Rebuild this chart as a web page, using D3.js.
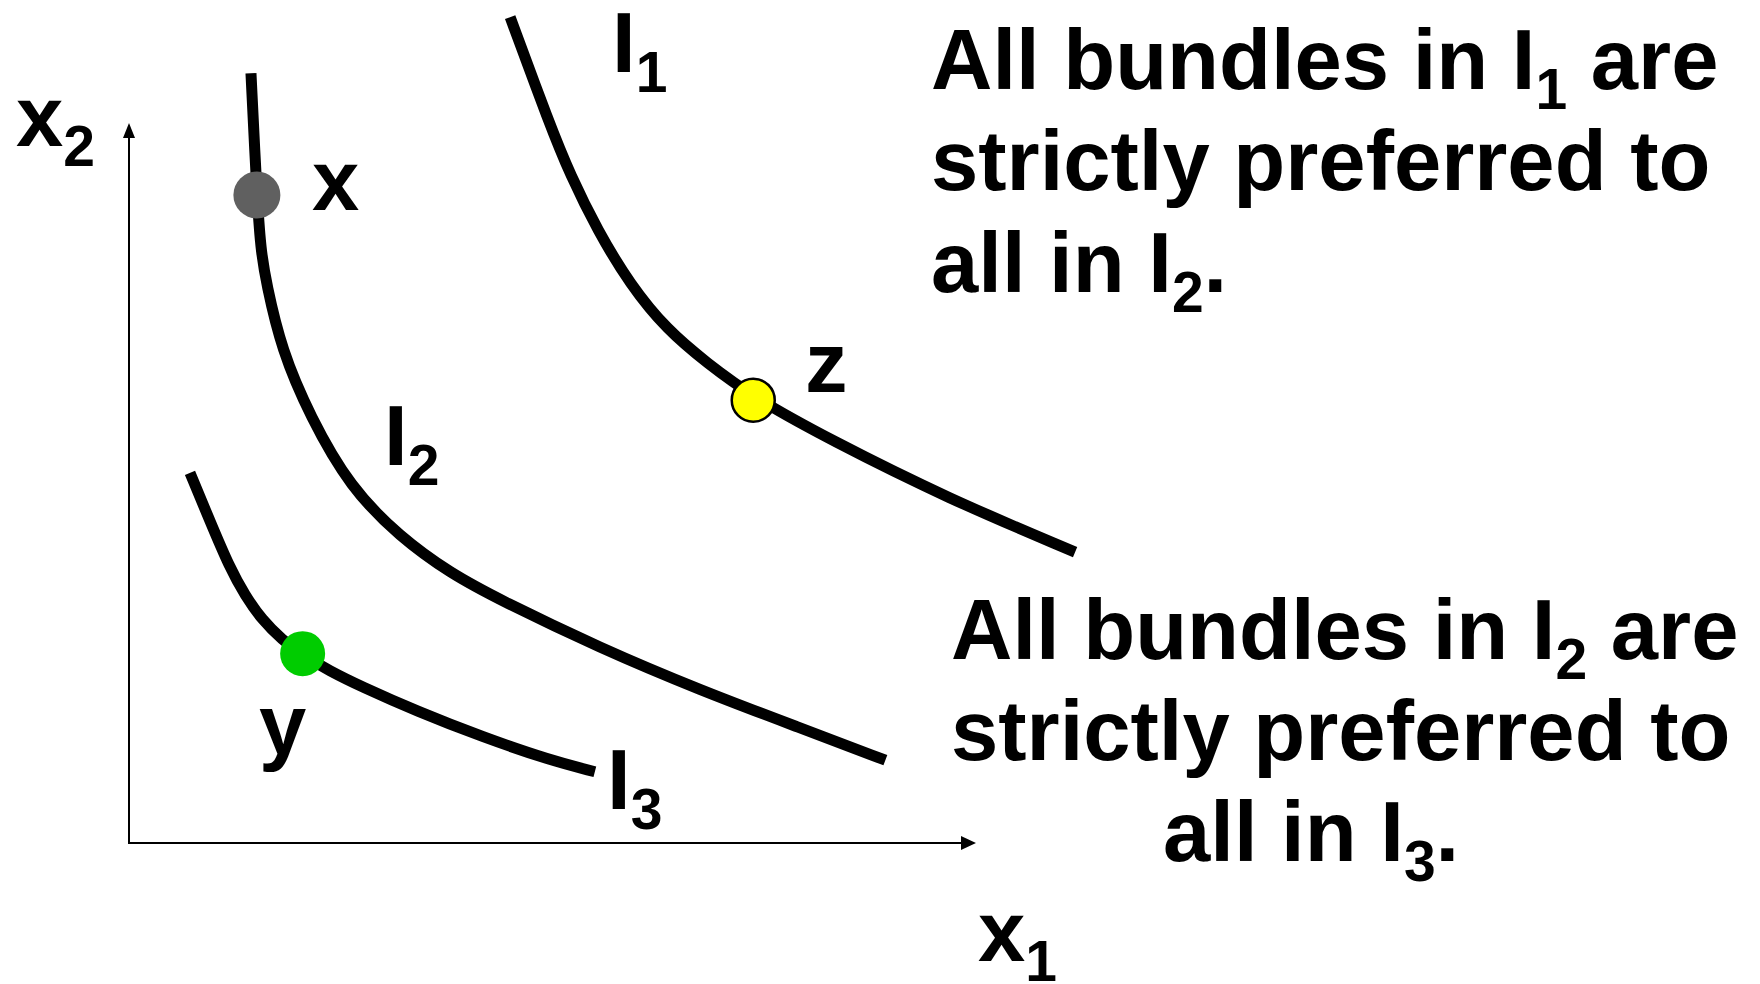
<!DOCTYPE html>
<html>
<head>
<meta charset="utf-8">
<script src="https://cdn.jsdelivr.net/npm/d3@7"></script>
<style>
  html, body { margin: 0; padding: 0; background: #ffffff; }
  svg { display: block; }
  text { font-family: "Liberation Sans", Arial, sans-serif; font-weight: bold; fill: #000; white-space: pre; }
</style>
</head>
<body>
<svg id="chart" width="1760" height="984"></svg>
<script>
// ---- Data (in abstract commodity units x1, x2) ----
const curveNames = ["I1", "I2", "I3"];
const i1X = [4.50, 4.97, 5.21, 5.53, 5.92, 6.35, 6.82, 7.37, 8.28, 9.66, 11.17];
const i1Y = [11.47, 9.97, 9.28, 8.51, 7.75, 7.13, 6.67, 6.19, 5.60, 4.79, 4.04];
const i2X = [1.44, 1.51, 1.555, 1.62, 1.80, 2.14, 2.61, 3.20, 3.79, 4.38, 5.56, 6.74, 7.92, 8.93];
const i2Y = [10.69, 9.00, 8.24, 7.78, 6.85, 5.92, 4.94, 4.25, 3.75, 3.375, 2.71, 2.125, 1.60, 1.15];
const i3X = [0.72, 0.956, 1.19, 1.37, 1.57, 1.81, 2.05, 2.37, 2.73, 3.40, 4.18, 4.97, 5.50];
const i3Y = [5.14, 4.47, 3.82, 3.44, 3.10, 2.82, 2.61, 2.39, 2.18, 1.83, 1.47, 1.15, 0.99];
const bundleNames = ["x", "y", "z"];
const bundleX1 = [1.51, 2.05, 7.37];
const bundleX2 = [9.00, 2.63, 6.15];
const bundleColors = ["#606060", "#00cc00", "#ffff00"];
const axisLabels = [["x", "2"], ["x", "1"]];
const note1 = [["All bundles in I", "1", " are"], ["strictly preferred to"], ["all in I", "2", "."]];
const note2 = [["All bundles in I", "2", " are"], ["strictly preferred to"], ["all in I", "3", "."]];

// ---- Scales ----
const x = d3.scaleLinear().domain([0, 10]).range([129, 976]);
const y = d3.scaleLinear().domain([0, 10]).range([843, 123]);

const svg = d3.select("#chart");
const FS = 85, SUB = 57, SHIFT = 20;

function rich(g, px, py, parts, anchor) {
  const t = g.append("text").attr("x", px).attr("y", py)
    .attr("font-size", FS).attr("text-anchor", anchor || "start");
  parts.forEach((p, i) => {
    const isSub = i % 2 === 1;
    const ts = t.append("tspan").text(p)
      .attr("font-size", isSub ? SUB : FS);
    if (isSub) ts.attr("dy", SHIFT);
    else if (i > 0) ts.attr("dy", -SHIFT);
  });
  return t;
}

// ---- Axes (no ticks, arrow heads) ----
const axes = svg.append("g");
axes.append("line").attr("x1", x(0)).attr("y1", y(0)).attr("x2", x(10) - 12).attr("y2", y(0))
  .attr("stroke", "#000").attr("stroke-width", 2);
axes.append("line").attr("x1", x(0)).attr("y1", y(0) + 1).attr("x2", x(0)).attr("y2", y(10) + 12)
  .attr("stroke", "#000").attr("stroke-width", 2);
axes.append("path")
  .attr("d", `M${x(10)},${y(0)} L${x(10) - 15},${y(0) - 7} L${x(10) - 15},${y(0) + 7} Z`)
  .attr("fill", "#000");
axes.append("path")
  .attr("d", `M${x(0)},${y(10)} L${x(0) - 6},${y(10) + 15} L${x(0) + 6},${y(10) + 15} Z`)
  .attr("fill", "#000");

// ---- Indifference curves ----
const line = d3.line().x(d => x(d[0])).y(d => y(d[1])).curve(d3.curveBasis);
const curves = [d3.zip(i1X, i1Y), d3.zip(i2X, i2Y), d3.zip(i3X, i3Y)];
svg.append("g").selectAll("path").data(curves).join("path")
  .attr("d", line)
  .attr("fill", "none")
  .attr("stroke", "#000")
  .attr("stroke-width", 11)
  .attr("stroke-linecap", "butt");

// ---- Bundles ----
const radii = [23.5, 22.5, 21.5];
svg.append("g").selectAll("circle").data(bundleNames).join("circle")
  .attr("cx", (d, i) => x(bundleX1[i]))
  .attr("cy", (d, i) => y(bundleX2[i]))
  .attr("r", (d, i) => radii[i])
  .attr("fill", (d, i) => bundleColors[i])
  .attr("stroke", (d, i) => i === 2 ? "#000" : "none")
  .attr("stroke-width", 2.5);

// ---- Labels ----
const lab = svg.append("g");
// bundle labels
lab.append("text").attr("x", 312).attr("y", 210).attr("font-size", FS).text(bundleNames[0]);
lab.append("text").attr("x", 259).attr("y", 754).attr("font-size", FS).text(bundleNames[1]);
lab.append("text").attr("x", 805).attr("y", 392).attr("font-size", FS).text(bundleNames[2]);
// curve labels
rich(lab, 612, 72, ["I", "1"]);
rich(lab, 384, 465, ["I", "2"]);
rich(lab, 607, 809, ["I", "3"]);
// axis labels
rich(lab, 16, 146, axisLabels[0]);
rich(lab, 978, 961, axisLabels[1]);

// ---- Notes ----
const n1Y = [89, 190, 292];
note1.forEach((parts, i) => rich(lab, 931, n1Y[i], parts));
const n2Y = [659, 760, 861];
const n2X = [951, 951, 1163];
note2.forEach((parts, i) => rich(lab, n2X[i], n2Y[i], parts));
</script>
</body>
</html>
